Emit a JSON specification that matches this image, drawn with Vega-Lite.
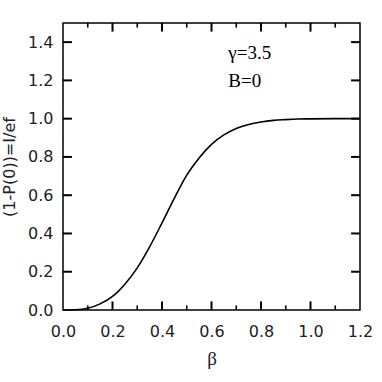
{
  "$schema": "https://vega.github.io/schema/vega-lite/v6.json",
  "autosize": "none",
  "width": 297,
  "height": 287,
  "padding": {"left": 63, "top": 23, "right": 22, "bottom": 72},
  "background": "white",
  "config": {
    "view": {"stroke": "black", "strokeWidth": 1.5},
    "axis": {
      "domain": false,
      "grid": false,
      "ticks": false,
      "labelFont": "DejaVu Sans",
      "labelFontSize": 16,
      "labelColor": "#222",
      "titleFontWeight": "normal",
      "titleColor": "#222"
    }
  },
  "datasets": {
    "curve": [
      {"b": 0.0, "v": 0.0},
      {"b": 0.05, "v": 0.0012},
      {"b": 0.10, "v": 0.009},
      {"b": 0.15, "v": 0.032},
      {"b": 0.20, "v": 0.071},
      {"b": 0.25, "v": 0.135},
      {"b": 0.30, "v": 0.220},
      {"b": 0.35, "v": 0.330},
      {"b": 0.40, "v": 0.455},
      {"b": 0.45, "v": 0.585},
      {"b": 0.50, "v": 0.705},
      {"b": 0.55, "v": 0.795},
      {"b": 0.60, "v": 0.866},
      {"b": 0.65, "v": 0.915},
      {"b": 0.70, "v": 0.949},
      {"b": 0.75, "v": 0.970},
      {"b": 0.80, "v": 0.983},
      {"b": 0.85, "v": 0.991},
      {"b": 0.90, "v": 0.995},
      {"b": 0.95, "v": 0.998},
      {"b": 1.0, "v": 0.999},
      {"b": 1.1, "v": 1.0},
      {"b": 1.2, "v": 1.0}
    ],
    "notes": [
      {"b": 0.668, "v": 1.341, "label": "γ=3.5"},
      {"b": 0.668, "v": 1.197, "label": "B=0"}
    ],
    "xmajor": [{"b": 0.2}, {"b": 0.4}, {"b": 0.6}, {"b": 0.8}, {"b": 1.0}],
    "xminor": [{"b": 0.1}, {"b": 0.3}, {"b": 0.5}, {"b": 0.7}, {"b": 0.9}, {"b": 1.1}],
    "ymajor": [{"v": 0.2}, {"v": 0.4}, {"v": 0.6}, {"v": 0.8}, {"v": 1.0}, {"v": 1.2}, {"v": 1.4}]
  },
  "layer": [
    {
      "data": {"name": "curve"},
      "mark": {"type": "line", "color": "black", "strokeWidth": 1.6, "interpolate": "monotone"},
      "encoding": {
        "x": {
          "field": "b", "type": "quantitative",
          "scale": {"domain": [0, 1.2], "nice": false, "zero": false},
          "axis": {
            "orient": "bottom",
            "values": [0, 0.2, 0.4, 0.6, 0.8, 1.0, 1.2],
            "format": ".1f",
            "labelPadding": 13,
            "labelFlush": false,
            "title": "β",
            "titleFont": "Liberation Serif",
            "titleFontSize": 19,
            "titlePadding": 10
          }
        },
        "y": {
          "field": "v", "type": "quantitative",
          "scale": {"domain": [0, 1.5], "nice": false, "zero": false},
          "axis": {
            "orient": "left",
            "values": [0, 0.2, 0.4, 0.6, 0.8, 1.0, 1.2, 1.4],
            "format": ".1f",
            "labelPadding": 10,
            "labelFlush": false,
            "title": "(1-P(0))=I/ef",
            "titleFont": "DejaVu Sans",
            "titleFontSize": 16,
            "titlePadding": 10
          }
        }
      }
    },
    {
      "data": {"name": "notes"},
      "mark": {"type": "text", "font": "Liberation Serif", "fontSize": 19, "align": "left", "baseline": "middle", "color": "black"},
      "encoding": {
        "x": {"field": "b", "type": "quantitative"},
        "y": {"field": "v", "type": "quantitative"},
        "text": {"field": "label"}
      }
    },
    {
      "data": {"name": "xmajor"},
      "mark": {"type": "rule", "color": "black", "strokeWidth": 2},
      "encoding": {
        "x": {"field": "b", "type": "quantitative"},
        "y": {"datum": 0, "type": "quantitative"},
        "y2": {"datum": 0.045}
      }
    },
    {
      "data": {"name": "xmajor"},
      "mark": {"type": "rule", "color": "black", "strokeWidth": 2},
      "encoding": {
        "x": {"field": "b", "type": "quantitative"},
        "y": {"datum": 1.5, "type": "quantitative"},
        "y2": {"datum": 1.455}
      }
    },
    {
      "data": {"name": "xminor"},
      "mark": {"type": "rule", "color": "black", "strokeWidth": 1.6},
      "encoding": {
        "x": {"field": "b", "type": "quantitative"},
        "y": {"datum": 0, "type": "quantitative"},
        "y2": {"datum": 0.024}
      }
    },
    {
      "data": {"name": "xminor"},
      "mark": {"type": "rule", "color": "black", "strokeWidth": 1.6},
      "encoding": {
        "x": {"field": "b", "type": "quantitative"},
        "y": {"datum": 1.5, "type": "quantitative"},
        "y2": {"datum": 1.476}
      }
    },
    {
      "data": {"name": "ymajor"},
      "mark": {"type": "rule", "color": "black", "strokeWidth": 2},
      "encoding": {
        "y": {"field": "v", "type": "quantitative"},
        "x": {"datum": 0, "type": "quantitative"},
        "x2": {"datum": 0.036}
      }
    },
    {
      "data": {"name": "ymajor"},
      "mark": {"type": "rule", "color": "black", "strokeWidth": 2},
      "encoding": {
        "y": {"field": "v", "type": "quantitative"},
        "x": {"datum": 1.2, "type": "quantitative"},
        "x2": {"datum": 1.164}
      }
    }
  ]
}
